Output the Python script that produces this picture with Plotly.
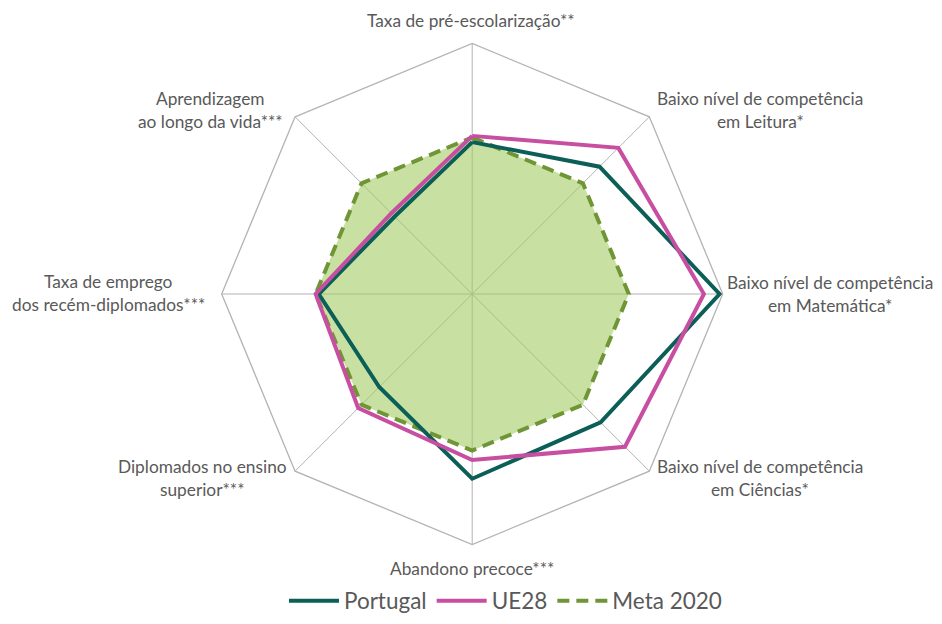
import plotly.graph_objects as go

# categories, clockwise from the top
categories = [
    "Taxa de pré-escolarização**",
    "Baixo nível de competência<br>em Leitura*",
    "Baixo nível de competência<br>em Matemática*",
    "Baixo nível de competência<br>em Ciências*",
    "Abandono precoce***",
    "Diplomados no ensino<br>superior***",
    "Taxa de emprego<br>dos recém-diplomados***",
    "Aprendizagem<br>ao longo da vida***",
]

portugal = [0.97, 1.15, 1.58, 1.16, 1.18, 0.84, 0.98, 0.70]
ue28 = [1.01, 1.32, 1.48, 1.38, 1.06, 1.03, 1.00, 0.73]
meta_2020 = [1.00, 1.00, 1.00, 1.00, 1.00, 1.00, 1.00, 1.00]

RADIAL_MAX = 1.6

FONT = "Lato"
TEXT = "#595959"
GRID = "#b3b3b3"
TEAL = "#0b5f57"
PINK = "#c84ea1"
OLIVE = "#6f9535"
FILL = "rgba(160,203,95,0.58)"

# the page puts the figure 8px in from every edge, so work in window pixels
# and convert with this offset; the figure is shrunk so nothing scrolls
OFF = 8
W, H = 942 - 2 * OFF, 624 - 2 * OFF


def px_x(x):
    return (x - OFF) / W


def px_y(y):
    return 1 - (y - OFF) / H


def closed(values):
    return list(values) + [values[0]]


theta = closed(categories)

fig = go.Figure()
# area of the target, kept out of the legend so the legend shows a dashed line
fig.add_trace(
    go.Scatterpolar(
        r=closed(meta_2020),
        theta=theta,
        mode="lines",
        fill="toself",
        fillcolor=FILL,
        line=dict(width=0, color=FILL),
        showlegend=False,
        hoverinfo="skip",
    )
)
fig.add_trace(
    go.Scatterpolar(
        r=closed(meta_2020),
        theta=theta,
        name="Meta 2020",
        mode="lines",
        line=dict(color=OLIVE, width=4, dash="12px,7px"),
        legendrank=3,
    )
)
fig.add_trace(
    go.Scatterpolar(
        r=closed(portugal),
        theta=theta,
        name="Portugal",
        mode="lines",
        line=dict(color=TEAL, width=4),
        legendrank=1,
    )
)
fig.add_trace(
    go.Scatterpolar(
        r=closed(ue28),
        theta=theta,
        name="UE28",
        mode="lines",
        line=dict(color=PINK, width=4),
        legendrank=2,
    )
)

# category labels, one annotation per line so the line gap matches the source
label_pos = [
    (471, 20),
    (760, 110),
    (830, 294),
    (760, 478),
    (472, 568),
    (202, 478),
    (108, 293),
    (210, 110),
]
LINE_GAP = 23.3
for text, (lx, ly) in zip(categories, label_pos):
    lines = text.split("<br>")
    top = ly - LINE_GAP * (len(lines) - 1) / 2
    for i, line in enumerate(lines):
        fig.add_annotation(
            text=line,
            x=px_x(lx),
            y=px_y(top + i * LINE_GAP),
            xref="paper",
            yref="paper",
            xanchor="center",
            yanchor="middle",
            showarrow=False,
            font=dict(family=FONT, size=17.3, color=TEXT),
        )

cx, cy, R = 472.2, 294.0, 250.5
fig.update_layout(
    width=W,
    height=H,
    paper_bgcolor="white",
    plot_bgcolor="white",
    margin=dict(l=0, r=0, t=0, b=0, autoexpand=False),
    font=dict(family=FONT, color=TEXT),
    polar=dict(
        domain=dict(
            x=[px_x(cx - R), px_x(cx + R)],
            y=[px_y(cy + R), px_y(cy - R)],
        ),
        gridshape="linear",
        bgcolor="white",
        radialaxis=dict(
            range=[0, RADIAL_MAX],
            showticklabels=False,
            ticks="",
            showgrid=False,
            showline=False,
        ),
        angularaxis=dict(
            direction="clockwise",
            rotation=90,
            showticklabels=False,
            ticks="",
            showgrid=True,
            gridcolor=GRID,
            gridwidth=1.3,
            showline=True,
            linecolor=GRID,
            linewidth=1.3,
        ),
    ),
    legend=dict(
        orientation="h",
        x=px_x(284),
        xanchor="left",
        y=px_y(601),
        yanchor="middle",
        itemwidth=50,
        font=dict(family=FONT, size=22.5, color=TEXT),
        bgcolor="rgba(0,0,0,0)",
    ),
)

fig.write_html("out.html")
